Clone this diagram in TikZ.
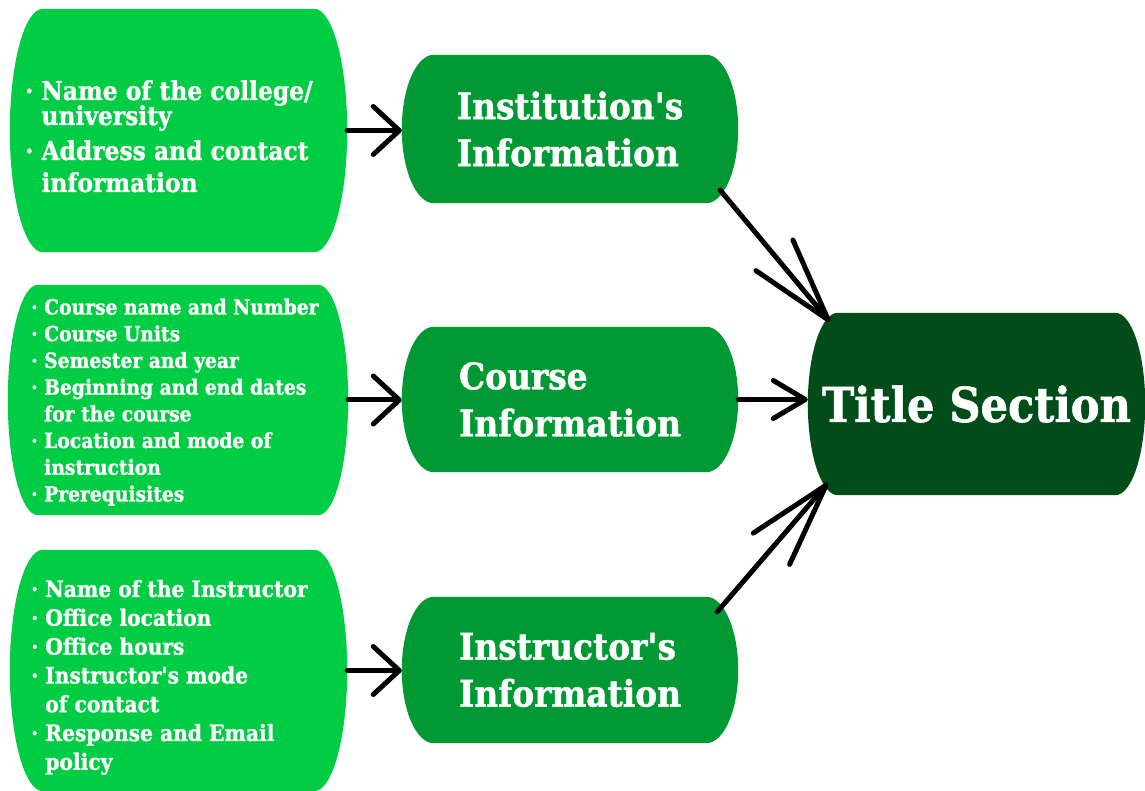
\documentclass[tikz,border=0pt]{standalone}
\usepackage{fontspec}
\newfontfamily\slab{DejaVu Serif Condensed}[Ligatures=TeXOff, BoldFeatures={FakeBold=1.2}]
\usetikzlibrary{arrows.meta,calc}
\pgfdeclarelayer{paper}
\pgfdeclarelayer{bg}
\pgfsetlayers{paper,bg,main}
\definecolor{lightg}{RGB}{0,204,68}
\definecolor{midg}{RGB}{0,153,51}
\definecolor{darkg}{RGB}{0,77,26}
% box with half-elliptic left and right ends: node, end depth, colour
\newcommand\barrel[3]{%
  \begin{pgfonlayer}{bg}
  \fill[#3] let \p1=(#1.north west), \p2=(#1.south east),
      \n1={0.5*(\y1-\y2)}, \n2={0.5*(\y1+\y2)} in
    (\x1+#2,\y1) -- (\x2-#2,\y1)
    .. controls (\x2-0.448*#2,\y1) and (\x2,\n2+0.552*\n1) .. (\x2,\n2)
    .. controls (\x2,\n2-0.552*\n1) and (\x2-0.448*#2,\y2) .. (\x2-#2,\y2)
    -- (\x1+#2,\y2)
    .. controls (\x1+0.448*#2,\y2) and (\x1,\n2-0.552*\n1) .. (\x1,\n2)
    .. controls (\x1,\n2+0.552*\n1) and (\x1+0.448*#2,\y1) .. (\x1+#2,\y1) -- cycle;
  \end{pgfonlayer}}
\newcommand\ind{\hphantom{· }}
\tikzset{
  boxn/.style={draw=none, inner sep=0pt},
  midn/.style={boxn, text=white, align=left, font=\slab\bfseries\fontsize{36.5}{47}\selectfont},
  titlen/.style={boxn, text=white, font=\slab\bfseries\fontsize{48}{56}\selectfont},
  itA/.style={anchor=base west, inner sep=0pt, text=white, font=\slab\bfseries\fontsize{26}{30}\selectfont},
  itB/.style={anchor=base west, inner sep=0pt, text=white, font=\slab\bfseries\fontsize{20.8}{26}\selectfont},
  itC/.style={anchor=base west, inner sep=0pt, text=white, font=\slab\bfseries\fontsize{22.5}{28}\selectfont},
  conn/.style={line width=5pt, line cap=round, black},
  tipS/.style={-{Straight Barb[length=26pt,width=48pt,round]}},
  tipM/.style={-{Straight Barb[length=32pt,width=38pt,round]}},
  tipL/.style={-{Straight Barb[length=84pt,width=48pt,round]}}
}
\begin{document}
\begin{tikzpicture}[x=1pt,y=1pt]
\begin{pgfonlayer}{paper}
\fill[white] (0,0) rectangle (1145,791);
\end{pgfonlayer}
\useasboundingbox (0,0) rectangle (1145,791);
% boxes
\node[boxn, minimum width=337pt, minimum height=243pt] (b1) at (178.5,660.5) {};
\node[boxn, minimum width=340pt, minimum height=230pt] (b2) at (178,391) {};
\node[boxn, minimum width=337pt, minimum height=241pt] (b3) at (178.5,120.5) {};
\node[midn, minimum width=336pt, minimum height=148pt] (m1) at (570,662) {Institution's\\Information};
\node[midn, minimum width=336pt, minimum height=145pt] (m2) at (570,391.5) {Course\\Information};
\node[midn, minimum width=336pt, minimum height=146pt] (m3) at (570,121) {Instructor's\\Information};
\node[titlen, minimum width=337pt, minimum height=182pt] (t) at (976.5,387) {Title Section};
\barrel{b1}{33}{lightg}
\barrel{b2}{30}{lightg}
\barrel{b3}{33}{lightg}
\barrel{m1}{32}{midg}
\barrel{m2}{32}{midg}
\barrel{m3}{32}{midg}
\barrel{t}{30}{darkg}
% box 1 text
\node[itA] (b1l1) at (25,691) {· Name of the college/};
\node[itA] (b1l2) at (25,666) {\ind university};
\node[itA] (b1l3) at (25,631) {· Address and contact};
\node[itA] (b1l4) at (25,599) {\ind information};
% box 2 text
\node[itB] (b2l1) at (31,476.5) {· Course name and Number};
\node[itB] (b2l2) at (31,449.8) {· Course Units};
\node[itB] (b2l3) at (31,423.1) {· Semester and year};
\node[itB] (b2l4) at (31,396.4) {· Beginning and end dates};
\node[itB] (b2l5) at (31,369.7) {\ind for the course};
\node[itB] (b2l6) at (31,343.0) {· Location and mode of};
\node[itB] (b2l7) at (31,316.3) {\ind instruction};
\node[itB] (b2l8) at (31,289.6) {· Prerequisites};
% box 3 text
\node[itC] (b3l1) at (31,194) {· Name of the Instructor};
\node[itC] (b3l2) at (31,165.2) {· Office location};
\node[itC] (b3l3) at (31,136.4) {· Office hours};
\node[itC] (b3l4) at (31,107.6) {· Instructor's mode};
\node[itC] (b3l5) at (31,78.8) {\ind of contact};
\node[itC] (b3l6) at (31,50) {· Response and Email};
\node[itC] (b3l7) at (31,21.2) {\ind policy};
% connectors
\draw[conn, tipS] (b1.east) -- (b1.east -| m1.west);
\draw[conn, tipS] (b2.east) -- (b2.east -| m2.west);
\draw[conn, tipS] (b3.east) -- (b3.east -| m3.west);
\draw[conn, tipM] (m2.east) -- (m2.east -| t.west);
\draw[conn, tipL] ([shift={(-18,13)}]m1.south east) -- ([shift={(22,-9)}]t.north west);
\draw[conn, tipL] ([shift={(-21,-15)}]m3.north east) -- ([shift={(20,12)}]t.south west);
\end{tikzpicture}
\end{document}
